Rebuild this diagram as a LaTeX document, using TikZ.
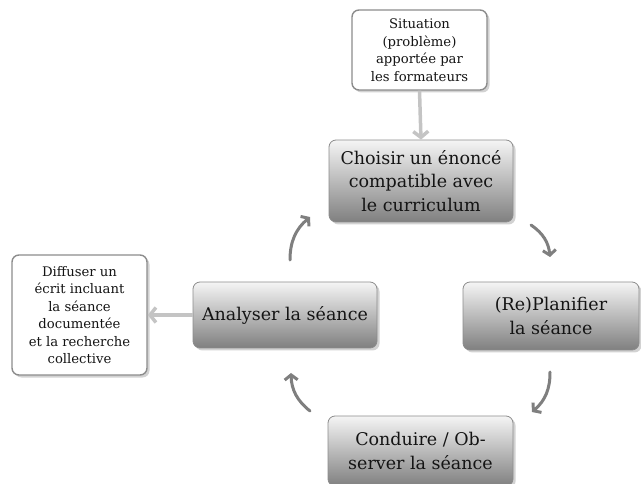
\documentclass[tikz,border=0pt]{standalone}
\usepackage{fontspec}
\setmainfont{DejaVu Serif}
\usetikzlibrary{shadows,arrows.meta}
\definecolor{txt}{HTML}{141414}
\definecolor{bord}{HTML}{8C8C8C}
\definecolor{feedc}{HTML}{C4C4C4}
\definecolor{cycc}{HTML}{7F7F7F}
\begin{document}
\begin{tikzpicture}[x=1pt,y=-1pt,
  mainbox/.style={rounded corners=7pt, draw=bord, line width=0.8pt,
    top color=white!96!black, bottom color=black!50,
    drop shadow={shadow xshift=2.5pt,shadow yshift=-2.5pt,fill=black!35,opacity=0.5},
    align=center, text=txt, inner sep=0pt,
    font=\fontsize{17.5}{23.5}\selectfont},
  sidebox/.style={rounded corners=7pt, draw=bord, line width=1.4pt, fill=white,
    drop shadow={shadow xshift=2.5pt,shadow yshift=-2.5pt,fill=black!35,opacity=0.5},
    align=center, text=txt, inner sep=0pt,
    font=\fontsize{13.2}{17.5}\selectfont},
  feed/.style={draw=feedc, line width=3.5pt, -{Straight Barb[length=6pt,width=15pt]}},
  cyc/.style={draw=cycc, line width=3pt, line cap=round, -{Straight Barb[length=5pt,width=13pt]}}
]
\useasboundingbox (0,0) rectangle (641,484);

\node[sidebox, minimum width=135pt, minimum height=80pt] (sit) at (419.5,50)
  {Situation\\(problème)\\apportée par\\les formateurs};
\node[mainbox, minimum width=184pt, minimum height=82pt] (cho) at (421,181)
  {Choisir un énoncé\\compatible avec\\le curriculum};
\node[mainbox, minimum width=176pt, minimum height=68pt] (pla) at (551,316)
  {(Re)Planifier\\la séance};
\node[mainbox, minimum width=185pt, minimum height=70pt] (con) at (420.5,451)
  {Conduire / Ob-\\server la séance};
\node[mainbox, minimum width=184pt, minimum height=66pt] (ana) at (285,315)
  {Analyser la séance};
\node[sidebox, minimum width=135pt, minimum height=120pt] (dif) at (79.5,315)
  {Diffuser un\\écrit incluant\\la séance\\documentée\\et la recherche\\collective};

\draw[feed] (sit.south) -- (cho.north);
\draw[feed] (ana.west) -- (dif.east);

\coordinate (a1s) at (290,260); \coordinate (a1e) at (310,217);
\coordinate (a2s) at (531,225); \coordinate (a2e) at (550,257);
\coordinate (a3s) at (550,372); \coordinate (a3e) at (532,412);
\coordinate (a4s) at (310,411); \coordinate (a4e) at (291,373);

\draw[cyc] (a1s) to[bend left=25] (a1e);
\draw[cyc] (a2s) to[bend left=25] (a2e);
\draw[cyc] (a3s) to[bend left=25] (a3e);
\draw[cyc] (a4s) to[bend left=25] (a4e);
\end{tikzpicture}
\end{document}
